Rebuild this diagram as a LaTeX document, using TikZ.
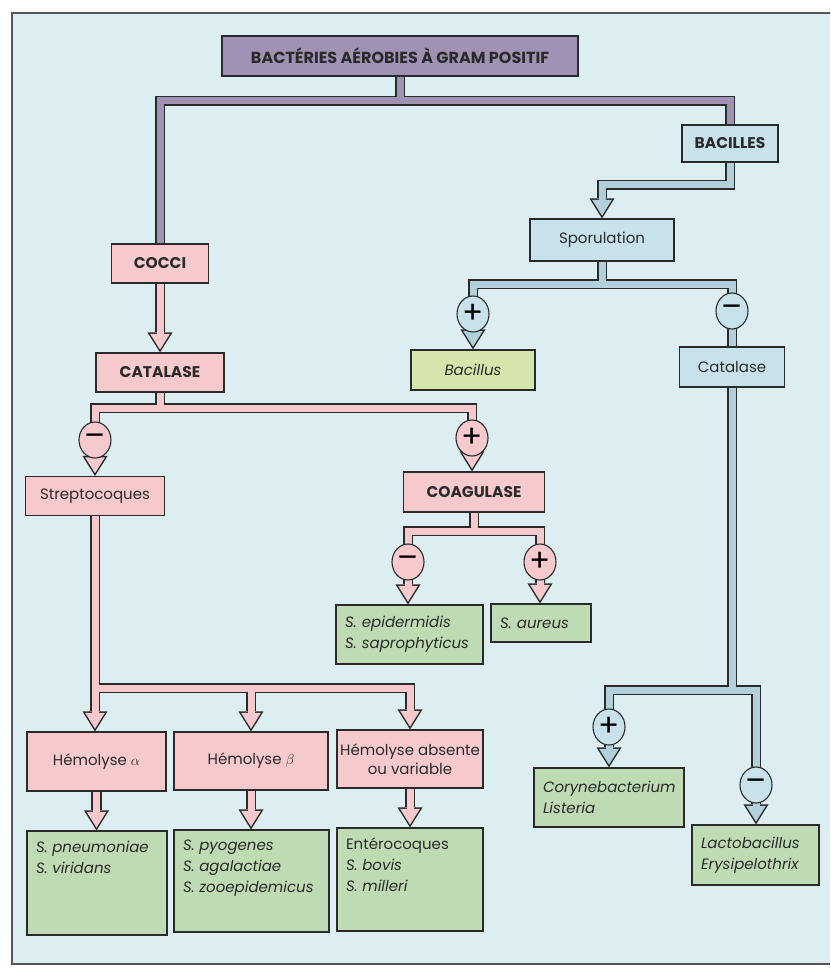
\documentclass[tikz,border=0pt]{standalone}
\usepackage{fontspec}
\setmainfont{Poppins}
\usetikzlibrary{arrows.meta,positioning,shapes.geometric}
\definecolor{papier}{HTML}{DCEEF1}
\definecolor{encre}{HTML}{2A2A2A}
\definecolor{mauve}{HTML}{A092B4}
\definecolor{rose}{HTML}{F6C9CC}
\definecolor{ciel}{HTML}{C7E2EB}
\definecolor{ardoise}{HTML}{B2D0DB}
\definecolor{sauge}{HTML}{BFDBB4}
\definecolor{anis}{HTML}{D5E5AB}
\pgfdeclarelayer{fond}
\pgfdeclarelayer{gaine}
\pgfdeclarelayer{coeur}
\pgfsetlayers{fond,gaine,coeur,main}
\newcommand{\tuyau}[3][]{%
  \begin{pgfonlayer}{gaine}\draw[tube,#1] #3;\end{pgfonlayer}%
  \begin{pgfonlayer}{coeur}\draw[tubefill=#2,#1] #3;\end{pgfonlayer}}
\newcommand{\haut}[3]{\parbox[c][#2][t]{#1}{\raggedright\vspace*{6pt}#3}}

\begin{document}
\begin{tikzpicture}[x=1pt,y=-1pt,
  boite/.style={draw=encre,line width=1.1pt,inner sep=0pt,align=center,text=encre,
    font=\fontsize{15}{18}\selectfont},
  gras/.style={boite,font=\fontsize{15.5}{18}\selectfont\bfseries},
  vert/.style={boite,fill=sauge,align=left,inner xsep=9pt,font=\fontsize{15}{21}\selectfont\itshape},
  signe/.style={ellipse,draw=encre,line width=1.1pt,minimum width=32pt,minimum height=36pt,
    inner sep=0pt,font=\fontsize{31}{31}\selectfont},
  tube/.style={line width=10.5pt,draw=encre,
    fl/.style={-{Triangle[width=25pt,length=20pt,line width=0pt]}}},
  tubefill/.style={line width=7pt,draw=#1,
    fl/.style={-{Triangle[width=19.6pt,length=15.7pt,line width=0pt]},shorten >=2.8pt}}]

\begin{pgfonlayer}{fond}
\fill[white] (0,0) rectangle (830,968);
\fill[papier] (12,13) rectangle (830,964);
\draw[encre!80,line width=1.4pt] (830,13) -- (12,13) -- (12,964) -- (830,964);
\end{pgfonlayer}
\useasboundingbox (0,0) rectangle (830,968);

\node[gras,fill=mauve,minimum width=356pt,minimum height=40pt,font=\fontsize{16}{18}\selectfont\bfseries] (gram) at (400,56) {BACTÉRIES AÉROBIES À GRAM POSITIF};

% bacilles
\node[gras,fill=ciel,minimum width=96pt,minimum height=37pt] (bacilles) at (730,143.5) {BACILLES};
\node[boite,fill=ciel,minimum width=144pt,minimum height=42pt] (spor) at (602,240) {Sporulation};
\node[signe,fill=ciel] (sporplus) at (473,314) {+};
\node[signe,fill=ciel] (spormoins) at (732,311) {–};
\node[boite,fill=anis,minimum width=124pt,minimum height=40pt,font=\fontsize{15}{18}\selectfont\itshape] (bacillus) at (473,370) {Bacillus};
\node[boite,fill=ciel,minimum width=105pt,minimum height=40pt] (catab) at (732,367) {Catalase};
\node[signe,fill=ciel] (cataplus) at (609,727) {+};
\node[signe,fill=ciel] (catamoins) at (756,785) {–};
\node[vert,text width=132pt,minimum height=59pt] (coryne) at (609,797.5) {Corynebacterium\\Listeria};
\node[vert,text width=109pt,minimum height=60pt] (lacto) at (755.5,855) {Lactobacillus\\Erysipelothrix};

% cocci
\node[gras,fill=rose,minimum width=97pt,minimum height=39pt] (cocci) at (160,263.5) {COCCI};
\node[gras,fill=rose,minimum width=128pt,minimum height=39pt] (catalase) at (160,372.5) {CATALASE};
\node[signe,fill=rose] (catmoins) at (95,440) {–};
\node[signe,fill=rose] (catplus) at (472,438) {+};
\node[boite,fill=rose,minimum width=139pt,minimum height=39pt] (strep) at (95,496) {Streptocoques};
\node[gras,fill=rose,minimum width=141pt,minimum height=40pt] (coag) at (474,492) {COAGULASE};
\node[signe,fill=rose] (coagmoins) at (408,562) {–};
\node[signe,fill=rose] (coagplus) at (540,562) {+};
\node[vert,text width=129pt,minimum height=59pt] (epid) at (409.5,634.5) {S. epidermidis\\S. saprophyticus};
\node[vert,text width=82pt,minimum height=38pt] (aureus) at (541,623) {S. aureus};
\node[boite,fill=rose,minimum width=139pt,minimum height=59pt] (hema) at (96.5,761.5) {Hémolyse $\alpha$};
\node[boite,fill=rose,minimum width=154pt,minimum height=58pt] (hemb) at (251,761) {Hémolyse $\beta$};
\node[boite,fill=rose,minimum width=146pt,minimum height=58pt,font=\fontsize{15}{19}\selectfont] (hemc) at (410,759) {Hémolyse absente\\ou variable};
\node[vert,minimum width=140pt,minimum height=104pt] (pneumo) at (97,883) {\haut{122pt}{96pt}{S. pneumoniae\\S. viridans}};
\node[vert,minimum width=155pt,minimum height=102pt] (pyo) at (251.5,881) {\haut{137pt}{94pt}{S. pyogenes\\S. agalactiae\\S. zooepidemicus}};
\node[vert,minimum width=146pt,minimum height=103pt] (entero) at (410,879.5) {\haut{128pt}{95pt}{\textup{Entérocoques}\\S. bovis\\S. milleri}};

% tuyaux
\coordinate (jgram) at (400,101);
\tuyau{mauve}{(gram.center) -- (jgram)}
\tuyau{mauve}{(jgram) -| (cocci.center)}
\tuyau{mauve}{(jgram) -| (bacilles.center)}

\coordinate (jbac) at (602,185);
\coordinate (jspor) at (602,284);
\coordinate (jcatab) at (732,690);
\tuyau[fl]{ardoise}{(bacilles.center) |- (jbac) -- (spor.north)}
\tuyau{ardoise}{(spor.center) -- (jspor)}
\tuyau[fl]{ardoise}{(jspor) -| (sporplus.center) -- (sporplus.center |- bacillus.north)}
\tuyau{ardoise}{(jspor) -| (spormoins.center) -- (catab.center)}
\tuyau{ardoise}{(catab.center) -- (jcatab)}
\tuyau[fl]{ardoise}{(jcatab) -| (cataplus.center) -- (cataplus.center |- coryne.north)}
\tuyau[fl]{ardoise}{(jcatab) -| (catamoins.center) -- (catamoins.center |- lacto.north)}

\coordinate (jcat) at (160,408);
\coordinate (jcoag) at (474,531);
\coordinate (jstrep) at (95,688);
\tuyau[fl]{rose}{(cocci.center) -- (catalase.north)}
\tuyau{rose}{(catalase.center) -- (jcat)}
\tuyau[fl]{rose}{(jcat) -| (catmoins.center) -- (catmoins.center |- strep.north)}
\tuyau[fl]{rose}{(jcat) -| (catplus.center) -- (catplus.center |- coag.north)}
\tuyau{rose}{(coag.center) -- (jcoag)}
\tuyau[fl]{rose}{(jcoag) -| (coagmoins.center) -- (coagmoins.center |- epid.north)}
\tuyau[fl]{rose}{(jcoag) -| (coagplus.center) -- (coagplus.center |- aureus.north)}
\tuyau[fl]{rose}{(strep.center) -- (strep.center |- hema.north)}
\tuyau[fl]{rose}{(jstrep) -| (hemb.north)}
\tuyau[fl]{rose}{(jstrep) -| (hemc.north)}
\tuyau[fl]{rose}{(hema.center) -- (hema.center |- pneumo.north)}
\tuyau[fl]{rose}{(hemb.center) -- (hemb.center |- pyo.north)}
\tuyau[fl]{rose}{(hemc.center) -- (hemc.center |- entero.north)}
\end{tikzpicture}
\end{document}
